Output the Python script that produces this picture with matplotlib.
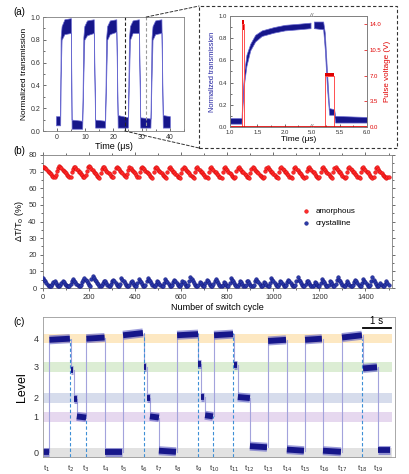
import numpy as np
import matplotlib
matplotlib.use('Agg')
import matplotlib.pyplot as plt
from matplotlib.patches import Rectangle, ConnectionPatch
from matplotlib.ticker import MultipleLocator

plt.rcParams['font.family'] = ['Liberation Sans', 'DejaVu Sans']

# ---------------- (a) switching trace, envelope of the noisy signal ----------------
a_time = [-0.4, 1.1, 1.25, 1.6, 2.6, 4.9, 5.15, 8.9, 9.3, 9.65, 10.6, 13.0,
          13.5, 17.0, 17.4, 17.75, 18.7, 21.0, 21.5, 25.1, 25.5, 25.85, 26.8, 29.0,
          29.5, 33.1, 33.5, 33.85, 34.8, 37.0, 37.5, 40.0]
a_lo = [0.05, 0.05, 0.45, 0.80, 0.85, 0.86, 0.02, 0.02, 0.45, 0.80, 0.84, 0.86,
        0.03, 0.03, 0.45, 0.80, 0.85, 0.87, 0.03, 0.03, 0.45, 0.80, 0.86, 0.86,
        0.03, 0.03, 0.45, 0.80, 0.85, 0.86, 0.03, 0.03]
a_hi = [0.13, 0.13, 0.82, 0.92, 0.98, 0.99, 0.10, 0.09, 0.82, 0.92, 0.97, 0.98,
        0.10, 0.09, 0.82, 0.92, 0.97, 0.98, 0.14, 0.12, 0.82, 0.92, 0.97, 0.98,
        0.12, 0.11, 0.82, 0.92, 0.97, 0.98, 0.14, 0.13]
zoom_left, zoom_right = 24.0, 31.6

# inset: transmission (real time in us, axis broken between 2.5 and 5.0)
ins_t1 = [1.0, 1.21, 1.23, 1.26, 1.3, 1.37, 1.46, 1.58, 1.8, 2.0, 2.25, 2.47]
ins_lo1 = [0.03, 0.03, 0.20, 0.40, 0.55, 0.69, 0.77, 0.82, 0.85, 0.87, 0.88, 0.89]
ins_hi1 = [0.08, 0.08, 0.30, 0.50, 0.65, 0.75, 0.83, 0.87, 0.90, 0.92, 0.93, 0.94]
ins_t2 = [5.03, 5.2, 5.23, 5.27, 5.31, 5.4, 5.42, 6.0]
ins_lo2 = [0.89, 0.88, 0.70, 0.35, 0.11, 0.11, 0.04, 0.04]
ins_hi2 = [0.95, 0.95, 0.85, 0.50, 0.17, 0.16, 0.10, 0.09]
# inset: pulse voltage
pulse_t1 = [1.0, 1.22, 1.22, 1.26, 1.26, 2.47]
pulse_v1 = [0, 0, 14.0, 14.0, 0, 0]
pulse_t2 = [5.03, 5.23, 5.23, 5.40, 5.40, 6.0]
pulse_v2 = [0, 0, 7.0, 7.0, 0, 0]
ins_xticks = [1.0, 1.5, 2.0, 5.0, 5.5, 6.0]

# ---------------- (b) endurance, one reading every 5 cycles ----------------
cycles = list(range(0, 1501, 5))
amorphous = [
    72.5, 73, 72, 71.5, 70.5, 70, 69, 68.5, 67.5, 67, 66.5, 68, 70.5, 72,
    73.5, 72.5, 72, 71, 70.5, 69.5, 69, 68, 67.5, 66.5, 67, 69.5, 71.5, 73,
    72.5, 71.5, 71, 70, 69.5, 68.5, 68, 67, 66.5, 68, 70.5, 72.5, 73.5, 72.5,
    71.5, 71, 70, 69, 68.5, 67.5, 67, 66, 69, 71.5, 73, 72.5, 71.5, 70.5,
    70, 69, 68.5, 67.5, 66.5, 67, 70, 72, 73, 72, 71.5, 70.5, 70, 69,
    68, 67.5, 66.5, 68.5, 71, 72.5, 72, 71, 70.5, 69.5, 69, 68, 67, 66.5,
    70, 72, 73, 72, 71.5, 70.5, 70, 69, 68.5, 67.5, 67, 66, 69.5, 72,
    72.5, 72, 71, 70.5, 69.5, 69, 68, 67.5, 66.5, 66, 70, 72, 72.5, 71.5,
    71, 70, 69.5, 68.5, 68, 67, 66.5, 66, 69, 71.5, 72.5, 72, 71, 70.5,
    69.5, 69, 68, 67.5, 66.5, 66, 70, 72, 72.5, 71.5, 71, 70, 69.5, 68.5,
    68, 67, 66.5, 66, 69.5, 72, 72.5, 71.5, 71, 70, 69.5, 68.5, 68, 67,
    66.5, 66, 70, 72, 72.5, 71.5, 71, 70, 69, 68.5, 67.5, 67, 66, 66.5,
    70.5, 72, 72.5, 71.5, 71, 70, 69.5, 68.5, 68, 67, 66.5, 66, 69, 71.5,
    72.5, 72, 71, 70.5, 69.5, 69, 68, 67.5, 66.5, 66, 66.5, 70.5, 72, 72.5,
    71.5, 71, 70, 69.5, 68.5, 68, 67, 66.5, 66, 69.5, 72, 72.5, 71.5, 71,
    70, 69.5, 68.5, 68, 67, 66.5, 66, 70, 72, 72.5, 71.5, 71, 70, 69,
    68.5, 67.5, 67, 66, 66.5, 70.5, 72, 72.5, 71.5, 71, 70, 69.5, 68.5, 67.5,
    67, 66, 66.5, 70, 72, 72.5, 71.5, 71, 70, 69, 68.5, 67.5, 67, 66,
    69.5, 72, 72.5, 71.5, 71, 70, 69.5, 68.5, 67.5, 67, 66, 66.5, 70, 72,
    72.5, 71.5, 71, 70, 69.5, 68.5, 68, 67, 66.5, 66, 69.5, 72, 72.5, 71.5,
    71, 70, 69.5, 68.5, 67.5, 67, 66, 66.5, 70, 72, 72.5, 71.5, 70.5, 70,
    69, 68, 67.5, 66.5, 66, 66.5, 67]
crystalline = [
    6, 5, 4, 3, 2, 1.5, 1, 1.5, 2.5, 3.5, 4, 3, 2, 1.5,
    1, 2, 3, 4, 3.5, 2.5, 2, 1.5, 1, 1.5, 2.5, 4, 5.5, 4.5,
    3.5, 2.5, 2, 1.5, 1, 2, 3.5, 5, 6, 5, 4, 3, 2, 1.5,
    5.5, 7, 6, 5, 4, 3, 2.5, 1.5, 1, 2, 3, 4.5, 4, 3,
    2, 1.5, 1, 2.5, 4, 5, 4, 3, 2, 1.5, 1, 2.5, 6, 5,
    4, 3, 2, 1.5, 1, 2, 3.5, 4, 3, 2, 1.5, 1, 3, 5.5,
    4.5, 3.5, 2.5, 1.5, 1, 2, 4, 6, 5, 4, 3, 2, 1.5, 1,
    2.5, 4, 3.5, 2.5, 2, 1.5, 1, 3, 5.5, 4.5, 3.5, 2.5, 1.5, 1,
    2, 3.5, 5, 4, 3, 2, 1.5, 1, 2.5, 4.5, 3.5, 2.5, 1.5, 1,
    2, 4, 6.5, 5.5, 4, 3, 2, 1.5, 1, 2, 3.5, 3, 2, 1.5,
    1, 3, 5, 4, 3, 2, 1.5, 1, 2.5, 4, 5.5, 4.5, 3, 2,
    1.5, 1, 2, 3.5, 3, 2, 1.5, 1, 3, 6, 5, 4, 3, 2,
    1.5, 1, 2.5, 4, 3.5, 2.5, 1.5, 1, 2, 4.5, 4, 3, 2, 1.5,
    1, 2, 4, 5.5, 4.5, 3.5, 2.5, 1.5, 1, 2, 3.5, 3, 2, 1.5,
    1, 3, 6, 5, 4, 3, 2, 1.5, 1, 2.5, 4, 3.5, 2.5, 1.5,
    1, 2, 3.5, 5, 4, 3, 2, 1.5, 1, 2, 4, 6.5, 5, 4,
    3, 2, 1.5, 1, 2.5, 4.5, 4, 3, 2, 1.5, 1, 2, 3.5, 3,
    2, 1.5, 1, 3, 5.5, 4.5, 3.5, 2.5, 1.5, 1, 2, 4, 3.5, 2.5,
    1.5, 1, 2.5, 5, 6.5, 5, 4, 3, 2, 1.5, 1, 2.5, 4, 3,
    2, 1.5, 1, 2, 3.5, 5, 4, 3, 2, 1.5, 1, 3, 5.5, 4.5,
    3.5, 2.5, 1.5, 1, 2, 4, 6.5, 5, 3.5, 2.5, 1.5, 1, 2, 3,
    2, 1.5, 1, 2.5, 4, 3, 2]

# ---------------- (c) multilevel trace ----------------
level_pos = [0.0, 0.316, 0.482, 0.754, 1.0]
level_names = ['0', '1', '2', '3', '4']
band_colors = ['#e2e2e2', '#e6d8ef', '#d6dcec', '#dcedd4', '#fde8c2']
seg_start = [0.00, 0.23, 1.00, 1.11, 1.21, 1.55, 2.21, 2.86, 3.61, 3.71, 3.82, 4.14, 4.79,
             5.55, 5.64, 5.79, 6.11, 6.82, 6.96, 7.39, 8.04, 8.71, 9.36, 10.00, 10.68, 11.43, 11.96]
seg_end = [0.21, 0.96, 1.07, 1.20, 1.54, 2.20, 2.82, 3.57, 3.68, 3.82, 4.14, 4.75, 5.54,
           5.64, 5.75, 6.07, 6.79, 6.93, 7.39, 8.00, 8.68, 9.32, 9.96, 10.64, 11.39, 11.93, 12.39]
seg_y0 = [0.01, 0.99, 0.73, 0.47, 0.32, 1.00, 0.01, 1.03, 0.75, 0.48, 0.32, 0.02, 1.03,
          0.78, 0.49, 0.33, 1.03, 0.77, 0.49, 0.06, 0.98, 0.03, 0.99, 0.02, 1.01, 0.74, 0.03]
seg_y1 = [0.01, 1.00, 0.73, 0.47, 0.31, 1.01, 0.01, 1.05, 0.75, 0.48, 0.31, 0.01, 1.04,
          0.78, 0.49, 0.32, 1.04, 0.77, 0.48, 0.05, 0.99, 0.02, 1.00, 0.01, 1.03, 0.75, 0.03]
dash_t = [0.98, 1.54, 3.59, 5.54, 6.08, 6.80, 11.41]
dash_top = [1.00, 0.31, 1.04, 1.05, 0.32, 1.05, 1.00]
t_pos = [0.14, 1.00, 1.54, 2.25, 2.86, 3.61, 4.12, 4.79, 5.55, 6.11, 6.82, 7.36,
         8.04, 8.71, 9.36, 10.04, 10.68, 11.41, 11.96]
t_labels = ['t$_{%d}$' % (i + 1) for i in range(len(t_pos))]

navy = '#16168a'
grey_spine = '#7f7f7f'

fig = plt.figure(figsize=(4.09, 4.74), dpi=100)


def style_origin(ax, fs=5):
    for sp in ax.spines.values():
        sp.set_color(grey_spine)
        sp.set_linewidth(0.6)
    ax.tick_params(which='both', direction='in', labelsize=fs, colors='#333333',
                   width=0.5, pad=2)
    ax.tick_params(which='major', length=2.5)
    ax.tick_params(which='minor', length=1.3)


# ---------- (a) main ----------
ax_a = fig.add_axes([0.1051, 0.7236, 0.3447, 0.2405])
ax_a.fill_between(a_time, a_lo, a_hi, color=navy, lw=0.5, edgecolor='#6a6ad0')
ax_a.set_xlim(-5, 45)
ax_a.set_ylim(0, 1.0)
ax_a.xaxis.set_major_locator(MultipleLocator(10))
ax_a.xaxis.set_minor_locator(MultipleLocator(5))
ax_a.yaxis.set_major_locator(MultipleLocator(0.2))
ax_a.yaxis.set_minor_locator(MultipleLocator(0.1))
ax_a.yaxis.set_major_formatter(plt.FormatStrFormatter('%.1f'))
style_origin(ax_a)
ax_a.set_xlabel('Time (\u03bcs)', fontsize=6.5, labelpad=1)
ax_a.set_ylabel('Normalized transmission', fontsize=6, labelpad=2)
ax_a.axvline(zoom_left, color='#222222', lw=0.8, ls=(0, (3, 2)))
ax_a.axvline(zoom_right, color='#9a9a9a', lw=0.8, ls=(0, (3, 2)))

# dashed inset frame and connectors
bx0, bx1, by0, by1 = 0.4866, 0.9707, 0.6878, 0.9873
fig.patches.append(Rectangle((bx0, by0), bx1 - bx0, by1 - by0, transform=fig.transFigure,
                             fill=False, ec='#333333', lw=0.8, ls=(0, (3, 2))))
fig.add_artist(ConnectionPatch(xyA=(zoom_right, 1.0), coordsA=ax_a.transData,
                               xyB=(bx0, by1), coordsB=fig.transFigure,
                               color='#333333', lw=0.7, ls=(0, (3, 2))))
fig.add_artist(ConnectionPatch(xyA=(zoom_left, 0.0), coordsA=ax_a.transData,
                               xyB=(bx0, by0), coordsB=fig.transFigure,
                               color='#333333', lw=0.7, ls=(0, (3, 2))))


# ---------- (a) inset, broken time axis ----------
def brk(t):
    t = np.asarray(t, dtype=float)
    return np.where(t >= 5.0, t - 2.5, t)


ax_i = fig.add_axes([0.5623, 0.7321, 0.3350, 0.2342])
ax_r = ax_i.twinx()
ax_i.fill_between(brk(ins_t1), ins_lo1, ins_hi1, color=navy, lw=0.5, edgecolor='#6a6ad0')
ax_i.fill_between(brk(ins_t2), ins_lo2, ins_hi2, color=navy, lw=0.5, edgecolor='#6a6ad0')
ax_r.plot(brk(pulse_t1), pulse_v1, color='#ff5050', lw=0.7)
ax_r.plot(brk(pulse_t2), pulse_v2, color='#ff5050', lw=0.7)
ax_r.fill_between(brk([1.222, 1.25]), 13.2, 14.5, color='#e00000', lw=0)
ax_r.fill_between(brk([5.23, 5.40]), 6.8, 7.3, color='#e00000', lw=0)
ax_r.plot([1.0, 3.5], [0.05, 0.05], color='#e00000', lw=1.2)
ax_i.set_xlim(1.0, 3.5)
ax_i.set_ylim(0, 1.0)
ax_r.set_ylim(0, 15.1)
ax_i.set_xticks(brk(ins_xticks))
ax_i.set_xticklabels(['%.1f' % v for v in ins_xticks])
ax_i.xaxis.set_minor_locator(MultipleLocator(0.25))
ax_i.yaxis.set_major_locator(MultipleLocator(0.2))
ax_i.yaxis.set_minor_locator(MultipleLocator(0.1))
ax_i.yaxis.set_major_formatter(plt.FormatStrFormatter('%.1f'))
ax_r.set_yticks([0, 3.5, 7.0, 10.5, 14.0])
ax_r.yaxis.set_major_formatter(plt.FormatStrFormatter('%.1f'))
style_origin(ax_i, fs=4.3)
style_origin(ax_r, fs=4.3)
ax_r.tick_params(axis='y', colors='#e00000')
ax_i.set_xlabel('Time (\u03bcs)', fontsize=6, labelpad=1)
ax_i.set_ylabel('Normalized transmission', fontsize=5.3, color='#2020a0', labelpad=2)
ax_r.set_ylabel('Pulse voltage (V)', fontsize=5.8, color='#e00000', labelpad=2)
for yy in (0.0, 1.0):
    ax_i.text(2.5, yy, '//', transform=ax_i.get_xaxis_transform(), ha='center', va='center',
              fontsize=4.5, color='#555555',
              bbox=dict(facecolor='white', edgecolor='none', pad=0.3), zorder=5)

# ---------- (b) endurance ----------
ax_b = fig.add_axes([0.1051, 0.3924, 0.8533, 0.2806])
ax_b.scatter(cycles, amorphous, s=7, c='#ff2a2a', edgecolors='#d00000', linewidths=0.3,
             label='amorphous', zorder=3)
ax_b.scatter(cycles, crystalline, s=7, c='#2a3aa8', edgecolors='#10107a', linewidths=0.3,
             label='crystalline', zorder=3)
ax_b.set_xlim(0, 1515)
ax_b.set_ylim(0, 80)
ax_b.xaxis.set_major_locator(MultipleLocator(200))
ax_b.xaxis.set_minor_locator(MultipleLocator(100))
ax_b.yaxis.set_major_locator(MultipleLocator(10))
ax_b.yaxis.set_minor_locator(MultipleLocator(5))
style_origin(ax_b, fs=5.5)
ax_b.tick_params(which='both', direction='out', top=True, right=True)
ax_b.set_xlabel('Number of switch cycle', fontsize=6.5, labelpad=1.5)
ax_b.set_ylabel('\u0394T/T$_0$ (%)', fontsize=6.5, labelpad=2)
ax_b.legend(loc='center left', bbox_to_anchor=(0.72, 0.53), frameon=False, fontsize=5.8,
            handletextpad=0.2, labelspacing=0.5, markerscale=1.0, borderaxespad=0)

# ---------- (c) multilevel ----------
ax_c = fig.add_axes([0.1051, 0.0359, 0.8606, 0.2954])
for yc, col in zip(level_pos, band_colors):
    ax_c.fill_between([0.0, 12.46], yc - 0.042, yc + 0.042, color=col, lw=0, zorder=0)
for k in range(1, len(seg_start)):
    ax_c.plot([seg_start[k], seg_start[k]], [seg_y1[k - 1], seg_y0[k]],
              color='#a3a3dc', lw=0.8, zorder=1)
for xd, yt in zip(dash_t, dash_top):
    ax_c.plot([xd, xd], [-0.035, yt], color='#3d8fd6', lw=0.8, ls=(0, (3, 2)), zorder=1.5)
for s, e, y0, y1 in zip(seg_start, seg_end, seg_y0, seg_y1):
    ax_c.plot([s, e], [y0, y1], color='#5c5cc4', lw=6.5, solid_capstyle='butt',
              alpha=0.6, zorder=2)
    ax_c.plot([s, e], [y0, y1], color=navy, lw=4.2, solid_capstyle='butt', zorder=2.5)
ax_c.plot([11.43, 12.43], [1.096, 1.096], color='black', lw=1.3)
ax_c.text(11.93, 1.115, '1 s', ha='center', va='bottom', fontsize=7)
ax_c.set_xlim(0, 12.57)
ax_c.set_ylim(-0.035, 1.19)
ax_c.set_yticks(level_pos)
ax_c.set_yticklabels(level_names)
ax_c.set_xticks(t_pos)
ax_c.set_xticklabels(t_labels)
for sp in ax_c.spines.values():
    sp.set_color('#9a9a9a')
    sp.set_linewidth(0.6)
ax_c.tick_params(axis='both', length=0, labelsize=5.5, colors='#333333')
ax_c.tick_params(axis='x', pad=5)
ax_c.tick_params(axis='y', labelsize=6.5, pad=3)
ax_c.set_ylabel('Level', fontsize=9, labelpad=4)

fig.text(0.032, 0.968, '(a)', fontsize=7)
fig.text(0.032, 0.676, '(b)', fontsize=7)
fig.text(0.032, 0.315, '(c)', fontsize=7)

fig.savefig('out.png', dpi=100)
plt.close(fig)
